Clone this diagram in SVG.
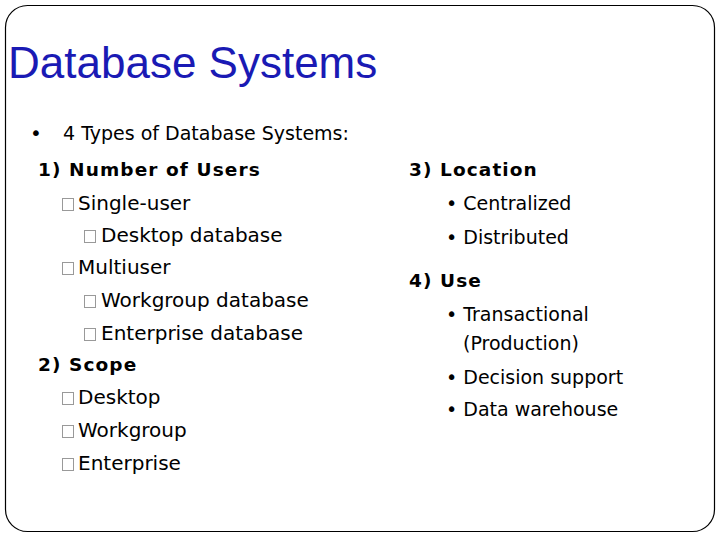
<svg xmlns="http://www.w3.org/2000/svg" width="720" height="540" viewBox="0 0 720 540">
<style>
text{font-family:"DejaVu Sans",Verdana,sans-serif;fill:#000;font-size:20px}
.s{font-size:19px}
.h{font-weight:bold;font-size:18.5px;letter-spacing:1.1px}
.bx{fill:none;stroke:#999;stroke-width:1}
</style>
<rect width="720" height="540" fill="#fff"/>
<rect x="5.5" y="5.5" width="709" height="526" rx="22" fill="none" stroke="#000" stroke-width="1.2"/>
<text x="8" y="78" style="font-family:'Liberation Sans',Arial,sans-serif;font-size:44px;fill:#1a1ab4">Database Systems</text>
<text x="30" y="140">•</text>
<text x="63" y="140" class="s">4 Types of Database Systems:</text>
<text class="h" x="38" y="176">1) Number of Users</text>
<rect class="bx" x="62.5" y="198.5" width="11" height="12"/><text x="78" y="210">Single-user</text>
<rect class="bx" x="84.5" y="230.5" width="11" height="12"/><text x="101" y="242">Desktop database</text>
<rect class="bx" x="62.5" y="262.5" width="11" height="12"/><text x="78" y="274">Multiuser</text>
<rect class="bx" x="84.5" y="295.5" width="11" height="12"/><text x="101" y="307">Workgroup database</text>
<rect class="bx" x="84.5" y="328.5" width="11" height="12"/><text x="101" y="340">Enterprise database</text>
<text class="h" x="38" y="371">2) Scope</text>
<rect class="bx" x="62.5" y="392.5" width="11" height="12"/><text x="78" y="404">Desktop</text>
<rect class="bx" x="62.5" y="425.5" width="11" height="12"/><text x="78" y="437">Workgroup</text>
<rect class="bx" x="62.5" y="458.5" width="11" height="12"/><text x="78" y="470">Enterprise</text>
<text class="h" x="409" y="176">3) Location</text>
<text x="446" y="210" class="s">• Centralized</text>
<text x="446" y="244" class="s">• Distributed</text>
<text class="h" x="409" y="287">4) Use</text>
<text x="446" y="321" class="s">• Transactional</text>
<text x="463" y="350" class="s">(Production)</text>
<text x="446" y="384" class="s">• Decision support</text>
<text x="446" y="416" class="s">• Data warehouse</text>
</svg>
